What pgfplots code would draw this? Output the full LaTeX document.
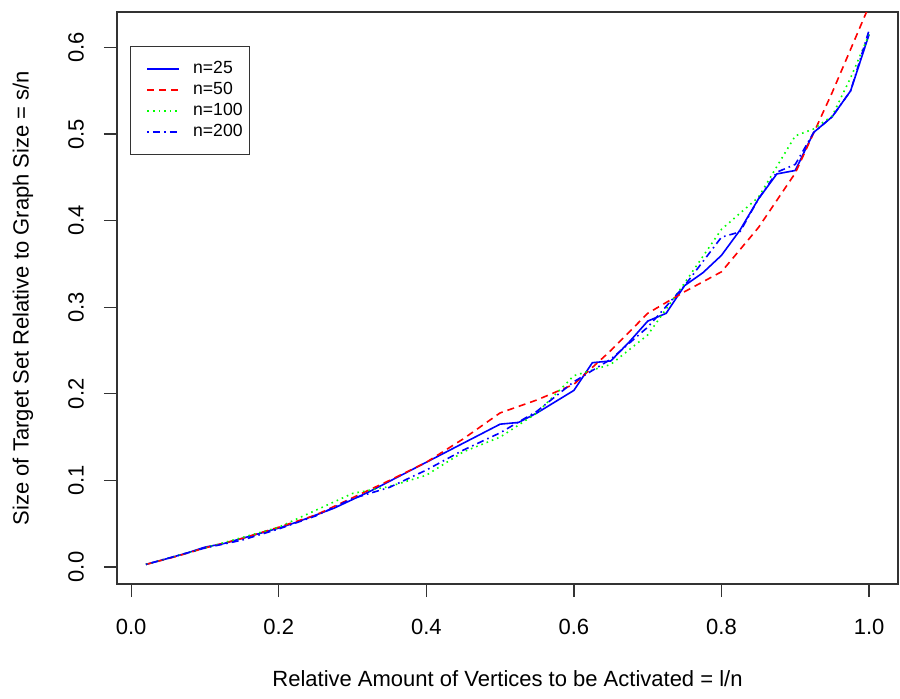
\documentclass[border=0pt]{standalone}
\usepackage{fontspec}
\setmainfont{Liberation Sans}
\usepackage{pgfplots}
\pgfplotsset{compat=1.18}
\begin{document}
\begin{tikzpicture}[x=1pt,y=1pt]
\useasboundingbox (0,0) rectangle (450,349);
\begin{axis}[
  at={(58.5pt,57pt)}, anchor=south west,
  scale only axis, width=390.5pt, height=286pt,
  xmin=-0.0192, xmax=1.0392, ymin=-0.0196, ymax=0.641,
  axis line style={line width=0.6pt, black!80},
  tick align=outside, major tick length=6.5pt,
  tick style={black!80, line width=0.6pt},
  xtick pos=bottom, ytick pos=left,
  xtick={0,0.2,0.4,0.6,0.8,1.0},
  xticklabels={0.0,0.2,0.4,0.6,0.8,1.0},
  ytick={0,0.1,0.2,0.3,0.4,0.5,0.6},
  yticklabels={0.0,0.1,0.2,0.3,0.4,0.5,0.6},
  ticklabel style={font=\fontsize{11}{13}\selectfont},
  xticklabel shift=7.5pt, yticklabel shift=6.5pt,
  yticklabel style={rotate=90, anchor=south},
  xlabel={Relative Amount of Vertices to be Activated = l/n},
  ylabel={Size of Target Set Relative to Graph Size = s/n},
  label style={font=\fontsize{11}{13}\selectfont},
  xlabel style={at={(axis description cs:0.5,-0.166)}, anchor=center},
  ylabel style={at={(axis description cs:-0.1204,0.5)}, anchor=center, rotate=0},
  legend style={at={(axis description cs:0.0166,0.9406)}, anchor=north west,
    draw=black!80, line width=0.6pt, font=\fontsize{8.8}{10}\selectfont,
    inner xsep=8pt, inner ysep=6.5pt, row sep=1pt, column sep=5.5pt,
    nodes={inner sep=1pt, text height=6pt, text depth=1.5pt}},
  legend cell align=left,
  legend image code/.code={\draw[#1] (0pt,0pt) -- (16pt,0pt);},
]
\addplot[blue, solid, line width=0.8pt] coordinates {
(0.02,0.003) (0.05,0.010) (0.075,0.016) (0.10,0.023) (0.125,0.027) (0.15,0.033)
(0.175,0.039) (0.20,0.045) (0.225,0.052) (0.25,0.060) (0.275,0.068) (0.30,0.078)
(0.325,0.088) (0.35,0.099) (0.375,0.110) (0.40,0.121) (0.425,0.132) (0.45,0.143)
(0.475,0.154) (0.50,0.165) (0.525,0.167) (0.55,0.178) (0.575,0.191) (0.60,0.204)
(0.625,0.236) (0.65,0.238) (0.675,0.260) (0.70,0.284) (0.725,0.293) (0.75,0.325)
(0.775,0.340) (0.80,0.360) (0.825,0.389) (0.85,0.425) (0.875,0.454) (0.90,0.458)
(0.925,0.502) (0.95,0.520) (0.975,0.550) (1.00,0.615)};
\addlegendentry[text width=19pt]{n=25}
\addplot[red, line width=0.8pt, dash pattern=on 3.5pt off 2.5pt] coordinates {
(0.02,0.003) (0.06,0.012) (0.10,0.022) (0.15,0.033) (0.20,0.046) (0.25,0.060)
(0.30,0.080) (0.35,0.100) (0.40,0.121) (0.45,0.148) (0.50,0.178) (0.55,0.193)
(0.60,0.211) (0.65,0.250) (0.70,0.293) (0.75,0.318) (0.80,0.341) (0.85,0.392)
(0.90,0.455) (0.95,0.548) (1.00,0.648)};
\addlegendentry[text width=19pt]{n=50}
\addplot[green, line width=0.8pt, dash pattern=on 0.8pt off 2pt] coordinates {
(0.02,0.003) (0.10,0.022) (0.20,0.046) (0.30,0.085) (0.35,0.093) (0.40,0.106)
(0.45,0.133) (0.50,0.150) (0.55,0.178) (0.60,0.221) (0.65,0.234) (0.70,0.268)
(0.75,0.328) (0.80,0.390) (0.85,0.427) (0.90,0.498) (0.925,0.506) (0.95,0.521)
(0.975,0.565) (1.00,0.615)};
\addlegendentry[text width=19pt]{n=100}
\addplot[blue, line width=0.8pt, dash pattern=on 0.8pt off 2pt on 3.5pt off 2pt] coordinates {
(0.02,0.003) (0.10,0.022) (0.15,0.031) (0.20,0.044) (0.25,0.059) (0.30,0.079)
(0.35,0.092) (0.40,0.112) (0.45,0.135) (0.50,0.155) (0.55,0.180) (0.60,0.214)
(0.65,0.240) (0.70,0.277) (0.75,0.325) (0.80,0.381) (0.825,0.387) (0.85,0.425)
(0.875,0.456) (0.90,0.465) (0.925,0.502) (0.95,0.520) (0.975,0.550) (1.00,0.620)};
\addlegendentry[text width=19pt]{n=200}
\end{axis}
\end{tikzpicture}
\end{document}
